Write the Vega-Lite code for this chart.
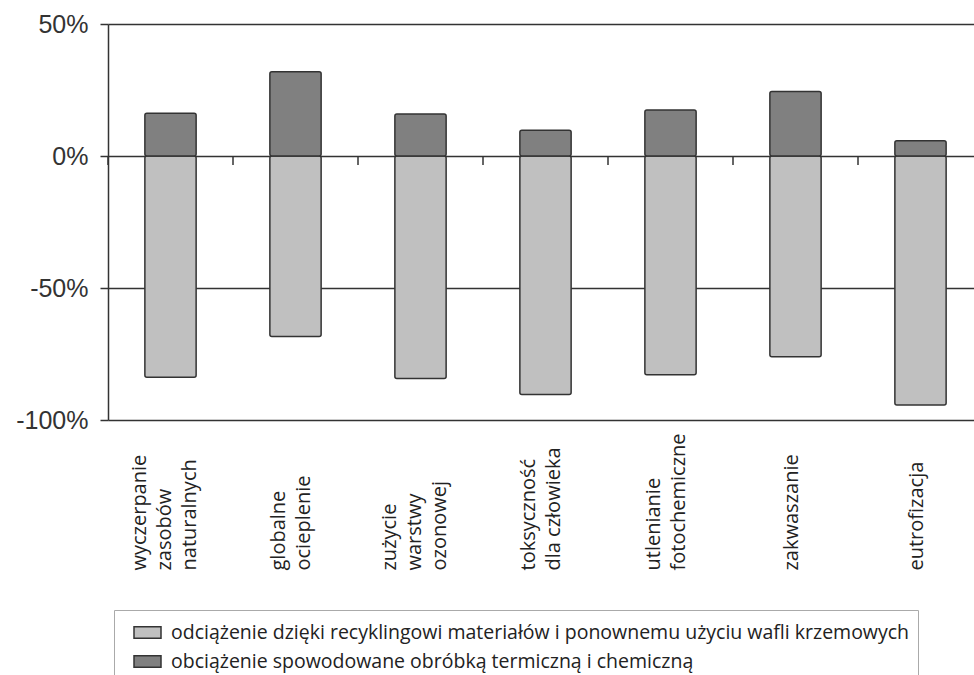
{
  "$schema": "https://vega.github.io/schema/vega-lite/v6.json",
  "autosize": {"type": "none"},
  "padding": {"left": 108, "top": 24, "right": 0, "bottom": 255},
  "width": 867,
  "height": 396,
  "config": {"view": {"stroke": null}, "font": "Open Sans"},
  "data": {
    "values": [
      {"kat": "wyczerpanie zasobów naturalnych", "seria": "odciążenie dzięki recyklingowi materiałów i ponownemu użyciu wafli krzemowych", "wartosc": -83.8},
      {"kat": "globalne ocieplenie", "seria": "odciążenie dzięki recyklingowi materiałów i ponownemu użyciu wafli krzemowych", "wartosc": -68.4},
      {"kat": "zużycie warstwy ozonowej", "seria": "odciążenie dzięki recyklingowi materiałów i ponownemu użyciu wafli krzemowych", "wartosc": -84.3},
      {"kat": "toksyczność dla człowieka", "seria": "odciążenie dzięki recyklingowi materiałów i ponownemu użyciu wafli krzemowych", "wartosc": -90.3},
      {"kat": "utlenianie fotochemiczne", "seria": "odciążenie dzięki recyklingowi materiałów i ponownemu użyciu wafli krzemowych", "wartosc": -82.9},
      {"kat": "zakwaszanie", "seria": "odciążenie dzięki recyklingowi materiałów i ponownemu użyciu wafli krzemowych", "wartosc": -76.0},
      {"kat": "eutrofizacja", "seria": "odciążenie dzięki recyklingowi materiałów i ponownemu użyciu wafli krzemowych", "wartosc": -94.3},
      {"kat": "wyczerpanie zasobów naturalnych", "seria": "obciążenie spowodowane obróbką termiczną i chemiczną", "wartosc": 16.2},
      {"kat": "globalne ocieplenie", "seria": "obciążenie spowodowane obróbką termiczną i chemiczną", "wartosc": 31.9},
      {"kat": "zużycie warstwy ozonowej", "seria": "obciążenie spowodowane obróbką termiczną i chemiczną", "wartosc": 15.9},
      {"kat": "toksyczność dla człowieka", "seria": "obciążenie spowodowane obróbką termiczną i chemiczną", "wartosc": 9.8},
      {"kat": "utlenianie fotochemiczne", "seria": "obciążenie spowodowane obróbką termiczną i chemiczną", "wartosc": 17.4},
      {"kat": "zakwaszanie", "seria": "obciążenie spowodowane obróbką termiczną i chemiczną", "wartosc": 24.4},
      {"kat": "eutrofizacja", "seria": "obciążenie spowodowane obróbką termiczną i chemiczną", "wartosc": 5.8}
    ]
  },
  "layer": [
    {
      "mark": {"type": "bar", "width": {"band": 0.41}, "stroke": "#333333", "strokeWidth": 1.5, "cornerRadius": 2},
      "encoding": {
        "x": {
          "field": "kat", "type": "nominal", "sort": null,
          "scale": {"range": [0, 875], "paddingInner": 0, "paddingOuter": 0},
          "axis": {
            "title": null, "domain": false, "ticks": false, "tickSize": 0,
            "labelAngle": 270, "labelAlign": "left", "labelBaseline": "middle",
            "labelPadding": 150, "labelFontSize": 20, "labelLineHeight": 25,
            "labelColor": "#222222", "labelFont": "Open Sans", "labelLimit": 300,
            "labelOffset": {
              "condition": [
                {"test": "datum.value == 'wyczerpanie zasobów naturalnych' || datum.value == 'zużycie warstwy ozonowej'", "value": -31},
                {"test": "datum.value == 'zakwaszanie' || datum.value == 'eutrofizacja'", "value": -4}
              ],
              "value": -17
            },
            "labelExpr": "datum.label == 'toksyczność dla człowieka' ? ['toksyczność', 'dla człowieka'] : split(datum.label, ' ')"
          }
        },
        "y": {
          "field": "wartosc", "type": "quantitative", "stack": null,
          "scale": {"domain": [-100, 50], "nice": false, "zero": false},
          "axis": {
            "title": null, "values": [50, 0, -50, -100],
            "labelExpr": "datum.value + '%'",
            "labelFont": "Liberation Sans", "labelFontSize": 25, "labelColor": "#333333",
            "labelPadding": 12, "tickSize": 8, "tickColor": "#333333", "tickWidth": 1.5,
            "domainColor": "#333333", "domainWidth": 1.5,
            "grid": true, "gridColor": "#333333", "gridWidth": 1.5, "gridOpacity": 1
          }
        },
        "color": {
          "field": "seria", "type": "nominal",
          "scale": {
            "domain": ["odciążenie dzięki recyklingowi materiałów i ponownemu użyciu wafli krzemowych", "obciążenie spowodowane obróbką termiczną i chemiczną"],
            "range": ["#c0c0c0", "#808080"]
          },
          "legend": {
            "title": null, "orient": "none", "legendX": 6, "legendY": 586,
            "direction": "vertical",
            "strokeColor": "#aaaaaa", "fillColor": "#ffffff",
            "padding": 8, "rowPadding": 5, "symbolOffset": 11,
            "symbolType": "M-1,-0.43H1V0.43H-1Z", "symbolSize": 729,
            "symbolStrokeColor": "#333333", "symbolStrokeWidth": 1.5, "symbolOpacity": 1,
            "labelFont": "Open Sans", "labelFontSize": 19.5, "labelColor": "#222222",
            "labelOffset": 9, "labelLimit": 1000
          }
        }
      }
    },
    {
      "transform": [{"filter": "datum.wartosc > 0"}],
      "mark": {"type": "rule", "stroke": "#333333", "strokeWidth": 1.5},
      "encoding": {
        "x": {"field": "kat", "type": "nominal", "sort": null, "bandPosition": 0},
        "y": {"datum": 0},
        "y2": {"datum": -3.4}
      }
    }
  ]
}
